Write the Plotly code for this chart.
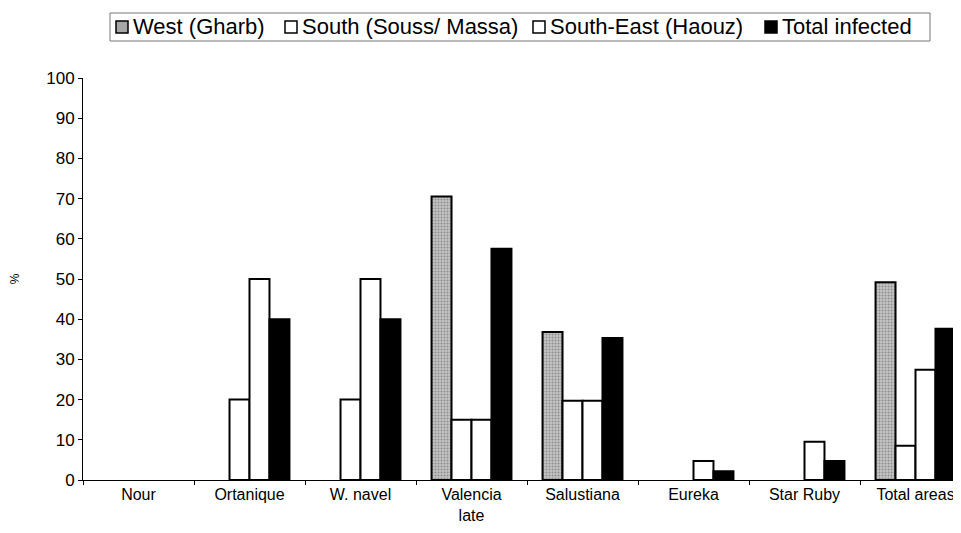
import plotly.graph_objects as go

categories = ["Nour", "Ortanique", "W. navel", "Valencia<br>late", "Salustiana", "Eureka", "Star Ruby", "Total areas"]
west = [0, 0, 0, 70.5, 36.8, 0, 0, 49.2]
south = [0, 20, 20, 15, 19.7, 0, 0, 8.5]
south_east = [0, 50, 50, 15, 19.7, 4.7, 9.5, 27.4]
total = [0, 40, 40, 57.5, 35.3, 2.2, 4.7, 37.6]
series_names = ["West (Gharb)", "South (Souss/ Massa)", "South-East (Haouz)", "Total infected"]
series_values = [west, south, south_east, total]
series_colors = ["#a6a6a6", "white", "white", "black"]

W, H = 961, 533
L, R, T, B = 75, 0, 70, 61
font = "Arial, Liberation Sans, sans-serif"

fig = go.Figure()
for name, vals, col in zip(series_names, series_values, series_colors):
    marker = dict(color=col, line=dict(color="black", width=2))
    if name == "West (Gharb)":
        marker["pattern"] = dict(shape=".", bgcolor="#c4c4c4", fgcolor="#555555",
                                 size=3, solidity=0.35)
    fig.add_trace(go.Bar(
        x=categories, y=[v if v > 0 else None for v in vals], name=name,
        marker=marker, showlegend=False,
    ))

# custom legend (pixel positions -> paper coords)
def px(xp):
    return (xp - L) / (W - L - R)

def py(yp):
    return 1 - (yp - T) / (H - T - B)

shapes = [dict(type="rect", xref="paper", yref="paper",
               x0=px(102), x1=px(922), y0=py(5), y1=py(33),
               line=dict(color="#777", width=1), fillcolor="white", layer="above")]
annotations = []
sq_x = [108, 277, 525, 757]
for name, col, x0 in zip(series_names, series_colors, sq_x):
    shapes.append(dict(type="rect", xref="paper", yref="paper",
                       x0=px(x0), x1=px(x0 + 12), y0=py(13), y1=py(25),
                       line=dict(color="black", width=1.5), fillcolor=col, layer="above"))
    annotations.append(dict(text=name, xref="paper", yref="paper",
                            x=px(x0 + 15), y=py(19), xanchor="left", yanchor="middle",
                            showarrow=False, font=dict(size=22, family=font, color="black")))

fig.update_layout(
    width=W, height=H,
    margin=dict(l=L, r=R, t=T, b=B, autoexpand=False),
    paper_bgcolor="white", plot_bgcolor="white",
    barmode="group", bargap=0.28, bargroupgap=0,
    font=dict(family=font, color="black"),
    showlegend=False,
    shapes=shapes, annotations=annotations,
    xaxis=dict(
        range=[-0.5, 7.482], showline=True, linecolor="black", linewidth=1,
        ticks="outside", tickson="boundaries", ticklen=4, tickcolor="black",
        tickfont=dict(size=16, family=font), showgrid=False, automargin=False,
    ),
    yaxis=dict(
        range=[0, 100], tickmode="linear", tick0=0, dtick=10,
        showline=True, linecolor="black", linewidth=1,
        ticks="outside", ticklen=4, tickcolor="black",
        tickfont=dict(size=17, family=font), showgrid=False, zeroline=False,
        automargin=False,
        title=dict(text="%", font=dict(size=12, family=font), standoff=30),
    ),
)

fig.write_html("out.html")
